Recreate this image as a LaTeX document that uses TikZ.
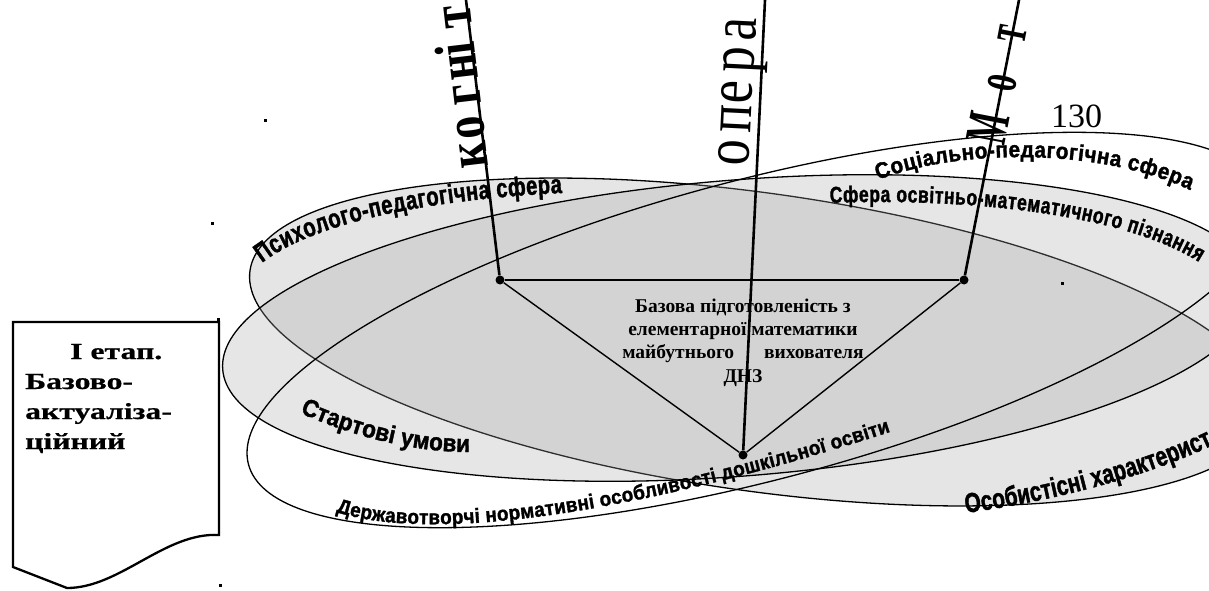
\documentclass[tikz,border=0pt]{standalone}
\usepackage{fontspec}
\setmainfont{Liberation Serif}
\newfontfamily\famA{Liberation Sans}[FakeStretch=0.92, BoldFeatures={FakeBold=1.5}]
\newfontfamily\famB{Liberation Sans}[FakeStretch=0.76, BoldFeatures={FakeBold=1.5}]
\newfontfamily\boxserif{Liberation Serif}[FakeStretch=1.38, BoldFeatures={FakeBold=0.6}]
\usetikzlibrary{decorations.text}
\definecolor{pfill}{gray}{0.898}
\definecolor{mfill}{gray}{0.65}
\newcommand\lblPsy{\famB\bfseries\fontsize{26.5}{26.5}\selectfont}
\newcommand\lblSoc{\famA\bfseries\fontsize{22.5}{22.5}\selectfont}
\newcommand\lblSfe{\famB\bfseries\fontsize{23}{23}\selectfont}
\newcommand\lblSta{\famA\bfseries\fontsize{24.5}{24.5}\selectfont}
\newcommand\lblDer{\famA\bfseries\fontsize{20.5}{20.5}\selectfont}
\newcommand\lblOso{\famB\bfseries\fontsize{27.5}{27.5}\selectfont}
\begin{document}
\begin{tikzpicture}[x=1pt,y=1pt,
  ell/.style={line width=1.3pt},
  axisline/.style={line width=2.6pt},
  triline/.style={line width=1.4pt},
  vdot/.style={circle,fill=black,inner sep=0pt,minimum size=9pt},
  axbold/.style={font=\bfseries\fontsize{46}{46}\selectfont, rotate=96.7, anchor=base west, inner sep=0pt},
  axreg/.style={font=\fontsize{52}{52}\selectfont, rotate=87.2, anchor=base west, inner sep=0pt},
  axmot/.style={font=\bfseries\fontsize{46}{46}\selectfont, rotate=79.1, anchor=base west, inner sep=0pt},
  curvelbl/.style={decorate, decoration={text along path, text align={fit to path}, text={#1}}}
]
\useasboundingbox (0,0) rectangle (1209,-591);
\clip (0,0) rectangle (1209,-591);

% ellipses
\draw[ell, fill=pfill, rotate around={-8:(758,-342)}] (758,-342) ellipse [x radius=513, y radius=149];
\draw[ell, fill=mfill, fill opacity=0.28, rotate around={4.6:(739,-328)}] (739,-328) ellipse [x radius=518, y radius=148];
\draw[ell, rotate around={14.8:(757,-330)}] (757,-330) ellipse [x radius=526, y radius=150];

% stray specks
\fill (263.5,-119.5) rectangle ++(3,-3);
\fill (210.5,-221.5) rectangle ++(3,-3);
\fill (216.5,-317.5) rectangle ++(3,-3);
\fill (218.5,-583.5) rectangle ++(3,-3);
\fill (1060.5,-281.5) rectangle ++(3,-3);

% central text
\node[font=\bfseries\fontsize{19.5}{23.3}\selectfont, align=center, anchor=north, inner sep=0pt] (basetext) at (743,-298.5)
  {Базова підготовленість з\\елементарної математики\\майбутнього\hspace{30pt}вихователя\\ДНЗ};

% triangle
\node[vdot] (vL) at (500,-280) {};
\node[vdot] (vR) at (964,-280) {};
\node[vdot] (vB) at (743,-455) {};
\draw[line width=2pt] (vL) -- (vR);
\draw[triline] (vL) -- (vB);
\draw[triline] (vB) -- (vR);

% axes
\coordinate (tL) at (466,0);
\coordinate (tM) at (765,0);
\coordinate (tR) at (1019,0);
\draw[axisline] (tL) -- (vL);
\draw[axisline] (tM) -- (vB);
\draw[axisline] (tR) -- (vR);

% axis letters
\node[axbold] (k1) at (488.7,-167) {\scalebox{1}[1.25]{к}};
\node[axbold] (k2) at (485.1,-138) {\scalebox{1}[1.25]{о}};
\node[axbold] (k3) at (481.3,-104) {\scalebox{1}[1.25]{г}};
\node[axbold] (k4) at (478.3,-79) {\scalebox{1}[1.25]{н}};
\node[axbold] (k5) at (475.4,-54) {\scalebox{1}[1.25]{і}};
\node[axbold] (k6) at (472.2,-27) {\scalebox{1}[1.25]{т}};
\node[axreg] (o1) at (748.9,-167) {\scalebox{1}[1.25]{о}};
\node[axreg] (o2) at (750.5,-134) {\scalebox{1}[1.25]{п}};
\node[axreg] (o3) at (751.9,-105) {\scalebox{1}[1.25]{е}};
\node[axreg] (o4) at (753.4,-74) {\scalebox{1}[1.25]{р}};
\node[axreg] (o5) at (755,-42) {\scalebox{1}[1.25]{а}};
\node[axmot] (m1) at (1004.6,-147) {\scalebox{0.7}[1.3]{М}};
\node[axmot] (m2) at (1014.9,-94) {\scalebox{0.7}[1.3]{о}};
\node[axmot] (m3) at (1024.3,-45) {\scalebox{0.7}[1.3]{т}};

% curved labels
\path[curvelbl={|\lblPsy|Психолого-педагогічна сфера}] (262,-263) .. controls (310,-225) and (420,-200) .. (562,-193);
\path[curvelbl={|\lblSoc|Соціально-педагогічна сфера}] (878,-180) .. controls (960,-148) and (1100,-148) .. (1190,-190);
\path[curvelbl={|\lblSfe|Сфера освітньо-математичного пізнання}] (830,-203) .. controls (960,-198) and (1120,-212) .. (1199,-262);
\path[curvelbl={|\lblSta|Стартові умови}] (300,-413) .. controls (350,-435) and (410,-452) .. (468,-452);
\path[curvelbl={|\lblDer|Державотворчі нормативні особливості дошкільної освіти}] (336,-512) .. controls (450,-548) and (680,-500) .. (890,-432);
\path[curvelbl={|\lblOso|Особистісні характерист}] (966,-513) .. controls (1060,-500) and (1150,-475) .. (1213,-445);

% stage box
\draw[line width=2.3pt] (13,-322) -- (219,-322) -- (219,-535) .. controls (165,-532) and (120,-588) .. (67,-588) -- (13,-567) -- cycle;
\node[font=\boxserif\bfseries\fontsize{23}{30}\selectfont, align=left, anchor=base west, inner sep=0pt] (stage) at (25,-449)
  {\hspace*{45pt}І етап.\\Базово-\\актуаліза-\\ційний};

% page number
\node[font=\fontsize{34}{34}\selectfont, anchor=base west, inner sep=0pt] (pagenum) at (1051,-128) {130};
\end{tikzpicture}
\end{document}
